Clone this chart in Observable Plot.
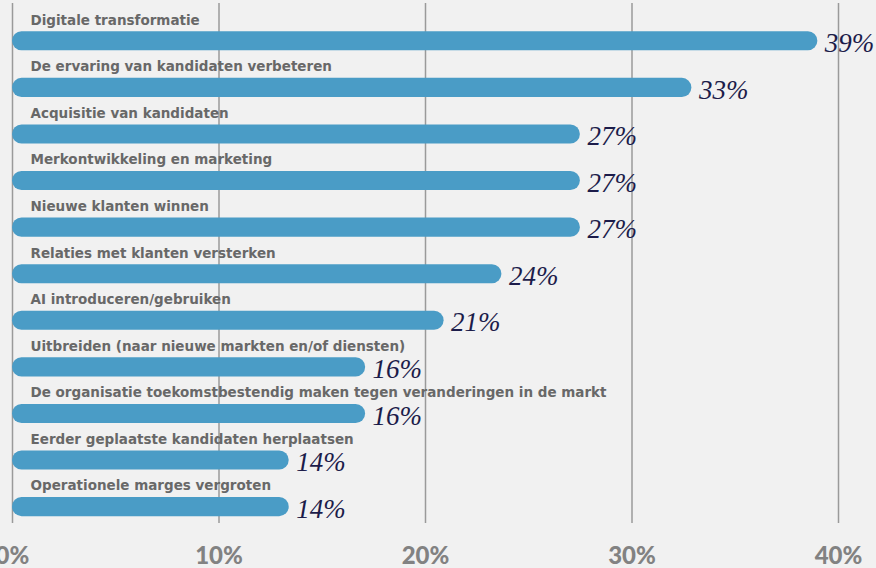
<!DOCTYPE html>
<html>
<head>
<meta charset="utf-8">
<script src="https://cdn.jsdelivr.net/npm/d3@7"></script>
<script src="https://cdn.jsdelivr.net/npm/@observablehq/plot@0.6"></script>
<style>
  html, body { margin: 0; padding: 0; background: #f1f1f1; }
  #chart { width: 876px; height: 568px; overflow: hidden; }
</style>
</head>
<body>
<div id="chart"></div>
<script>
const categories = [
  "Digitale transformatie",
  "De ervaring van kandidaten verbeteren",
  "Acquisitie van kandidaten",
  "Merkontwikkeling en marketing",
  "Nieuwe klanten winnen",
  "Relaties met klanten versterken",
  "AI introduceren/gebruiken",
  "Uitbreiden (naar nieuwe markten en/of diensten)",
  "De organisatie toekomstbestendig maken tegen veranderingen in de markt",
  "Eerder geplaatste kandidaten herplaatsen",
  "Operationele marges vergroten"
];
// bar lengths as drawn (unrounded), and the printed labels
const values = [39.0, 32.9, 27.5, 27.5, 27.5, 23.7, 20.9, 17.1, 17.1, 13.4, 13.4];
const labels = ["39%", "33%", "27%", "27%", "27%", "24%", "21%", "16%", "16%", "14%", "14%"];
const xTicks = [0, 10, 20, 30, 40];

const data = categories.map((c, i) => ({category: c, value: values[i], label: labels[i]}));

const chart = Plot.plot({
  width: 876,
  height: 568,
  marginTop: 3,
  marginBottom: 45,
  marginLeft: 12,
  marginRight: 38,
  style: {background: "#f1f1f1", overflow: "visible"},
  x: {domain: [0, 40], ticks: xTicks},
  y: {domain: categories, paddingInner: 0.59, paddingOuter: 0.377, align: 0.805, round: false, axis: null},
  marks: [
    Plot.ruleX(xTicks, {stroke: "#9a9a9a", strokeWidth: 1.5}),
    Plot.axisX({
      ticks: xTicks,
      tickSize: 0,
      tickPadding: 23,
      tickFormat: d => d + "%",
      fontSize: 24,
      fontWeight: 900,
      fontFamily: "Lato, 'DejaVu Sans', sans-serif",
      fill: "#828282",
      label: null
    }),
    Plot.barX(data, {x: "value", y: "category", fill: "#4a9cc6", rx: 9.5}),
    Plot.text(data, {
      x: 0, y: "category", text: "category",
      textAnchor: "start", dx: 18, dy: -21,
      fontSize: 13.5, fontWeight: "bold",
      fontFamily: "'DejaVu Sans', sans-serif",
      fill: "#686868"
    }),
    Plot.text(data, {
      x: "value", y: "category", text: "label",
      textAnchor: "start", dx: 7, dy: 2,
      fontSize: 27, fontStyle: "italic",
      fontFamily: "'Liberation Serif', 'DejaVu Serif', serif",
      fill: "#1c1c4a"
    })
  ]
});
document.getElementById("chart").appendChild(chart);
</script>
</body>
</html>
